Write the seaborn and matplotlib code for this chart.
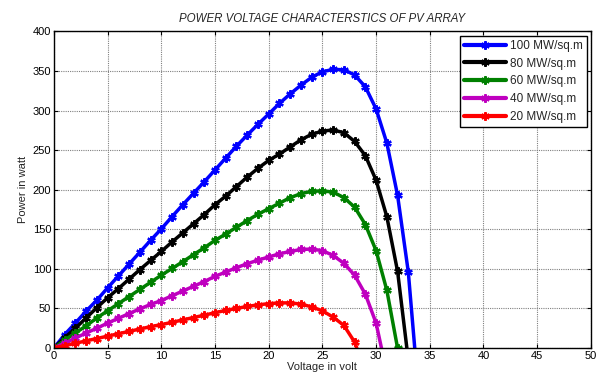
import numpy as np
import pandas as pd
import matplotlib
matplotlib.use("Agg")
import matplotlib.pyplot as plt
import seaborn as sns

voltage = list(range(0, 35))

p100 = [0, 17, 31.5, 46.7, 60.5, 76, 91, 106, 121, 136, 150.5, 166, 181, 195.5, 210,
        225, 240, 255, 269, 282.6, 295.6, 309, 321, 332, 342, 349, 352, 351.5, 345,
        330, 302, 259, 193, 96, -64]
p80 = [0, 13, 25, 38, 51, 63.5, 75, 87, 99, 110.6, 122, 134, 145.5, 157, 168.6,
       181, 192, 204, 216, 227, 237, 245, 254, 263, 270, 274, 275.5, 272, 261,
       243, 212, 166, 97, -15]
p60 = [0, 10, 19, 28, 38, 47, 56, 65, 74, 83, 92, 100.5, 109, 118, 126.6, 136, 144,
       152.6, 161, 169, 176, 183, 190, 195, 198, 198.5, 197, 190, 178, 156, 123,
       73, 0]
p40 = [0, 6.2, 12.5, 19, 25, 31.5, 37.5, 43.5, 49.5, 55, 60, 66, 72, 78, 84, 90.5,
       96, 101.5, 106.5, 111, 115, 119, 122, 124.5, 125, 123, 117, 107, 92, 68,
       31.5, -31.5]
p20 = [0, 3, 6, 9, 12, 15, 18, 21, 24, 27, 29.5, 32.5, 35.5, 38.5, 41.5, 44.6, 47.5,
       50, 52.5, 54.5, 56, 57, 57, 55.5, 52, 47, 39, 28.6, 7.5, -30]

labels = ["100 MW/sq.m", "80 MW/sq.m", "60 MW/sq.m", "40 MW/sq.m", "20 MW/sq.m"]
series = [p100, p80, p60, p40, p20]
colors = ["#0000ff", "#000000", "#008000", "#bf00bf", "#ff0000"]

rows = []
for lab, vals in zip(labels, series):
    for v, p in zip(voltage, vals):
        rows.append({"V": v, "P": p, "series": lab})
df = pd.DataFrame(rows)

sns.set_style("white")
plt.rcParams['font.family'] = ['Liberation Sans', 'DejaVu Sans']

fig = plt.figure(figsize=(6.06, 3.81), dpi=100)
ax = fig.add_axes([0.089, 0.0866, 0.886, 0.831])

sns.lineplot(data=df, x="V", y="P", hue="series", hue_order=labels,
             palette=colors, sort=False, estimator=None, marker=(6, 2, 0),
             markersize=6, linewidth=2.5, ax=ax)

for ln in ax.lines:
    c = ln.get_color()
    ln.set_markeredgecolor(c)
    ln.set_markerfacecolor(c)
    ln.set_markeredgewidth(1.6)

ax.set_xlim(0, 50)
ax.set_ylim(0, 400)
ax.set_xticks(range(0, 51, 5))
ax.set_yticks(range(0, 401, 50))
ax.grid(True, color="#808080", linestyle=(0, (1, 1)), linewidth=0.8)
ax.tick_params(direction="in", length=3, labelsize=8, colors="black", pad=2,
               top=True, right=True, bottom=True, left=True)
for s in ax.spines.values():
    s.set_color("black")
    s.set_linewidth(1)

ax.set_xlabel("Voltage in volt", fontsize=8, labelpad=1)
ax.set_ylabel("Power in watt", fontsize=8, labelpad=3)
ax.set_title("POWER VOLTAGE CHARACTERSTICS OF PV ARRAY", fontsize=8.3,
             fontstyle="italic", pad=7)

leg = ax.legend(loc="upper right", fontsize=8.5, frameon=True, fancybox=False,
                edgecolor="black", framealpha=1, handlelength=3.6,
                borderaxespad=0.35, labelspacing=0.5, handletextpad=0.3,
                borderpad=0.35)
leg.get_frame().set_linewidth(1)
for h in leg.legend_handles:
    c = h.get_color()
    h.set_markeredgecolor(c)
    h.set_markerfacecolor(c)
    h.set_linewidth(3)

fig.savefig("out.png", dpi=100, facecolor="white")
